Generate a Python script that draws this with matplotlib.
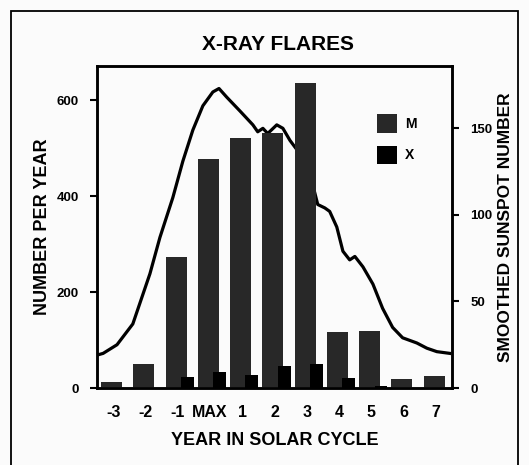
import matplotlib.pyplot as plt
from matplotlib.patches import Rectangle, Patch

# Year in solar cycle (0 = MAX)
years = [-3, -2, -1, 0, 1, 2, 3, 4, 5, 6, 7]
year_labels = ["-3", "-2", "-1", "MAX", "1", "2", "3", "4", "5", "6", "7"]

# flares per year
m_flares = [12, 50, 274, 477, 521, 532, 636, 117, 119, 19, 25]
x_flares = [0, 0, 23, 33, 27, 46, 50, 20, 5, 0, 0]

# smoothed sunspot number
ssn_year = [-3.5, -3.31, -2.88, -2.39, -1.86, -1.55, -1.15, -0.84, -0.53, -0.22,
            0.09, 0.28, 0.52, 0.93, 1.33, 1.48, 1.64, 1.79, 2.07, 2.26, 2.48,
            2.72, 3.19, 3.34, 3.56, 3.71, 3.93, 4.12, 4.33, 4.49, 4.74, 5.05,
            5.35, 5.66, 5.97, 6.41, 6.72, 7.03, 7.43]
ssn = [19, 20, 25, 37, 66, 87, 110, 131, 149, 163,
       171, 173, 168, 160, 152, 148, 150, 147, 152, 150, 143,
       137, 117, 106, 104, 102, 93, 79, 74, 76, 70, 60,
       46, 35, 29, 26, 23, 21, 20]

plt.rcParams['font.family'] = ['Liberation Sans', 'DejaVu Sans']
plt.rcParams['font.weight'] = 'bold'

fig = plt.figure(figsize=(5.29, 4.65), dpi=100)
fig.patch.set_facecolor('#fbfbfb')
ax = fig.add_axes([97/529, 77/465, 355/529, 322/465])
ax2 = ax.twinx()

# sunspot line goes behind the bars
ax.set_zorder(2)
ax2.set_zorder(1)
ax.patch.set_visible(False)
ax2.patch.set_facecolor('#fbfbfb')

ax2.plot(ssn_year, ssn, color='black', lw=2.3, solid_joinstyle='round')
ax2.set_ylim(0, 186)
ax2.set_yticks([0, 50, 100, 150])
ax2.tick_params(axis='y', direction='out', length=5, width=1.5, labelsize=9.5, pad=8)

ax.bar([y - 0.05 for y in years], m_flares, width=0.65, color='#282828', zorder=2)
ax.bar([y + 0.3 for y in years], x_flares, width=0.4, color='black', zorder=3)

ax.set_xlim(-3.5, 7.5)
ax.set_ylim(0, 672)
ax.set_yticks([0, 200, 400, 600])
ax.set_xticks(years)
ax.set_xticklabels(year_labels)
ax.tick_params(axis='x', direction='in', length=4, width=1.5, labelsize=11.5, pad=12)
ax.tick_params(axis='y', direction='out', length=5, width=1.5, labelsize=9.5, pad=8)

for a in (ax, ax2):
    for s in a.spines.values():
        s.set_linewidth(1.8)

ax.set_xlabel("YEAR IN SOLAR CYCLE", fontsize=13, fontweight='bold', labelpad=9)
ax.set_ylabel("NUMBER PER YEAR", fontsize=13, fontweight='bold', labelpad=4)
ax2.set_ylabel("SMOOTHED SUNSPOT NUMBER", fontsize=12.5, fontweight='bold',
               rotation=90, labelpad=4)
fig.text(278/529, 1 - 45/465, "X-RAY FLARES", ha='center', va='center',
         fontsize=15, fontweight='bold')

handles = [Patch(facecolor='#282828', label='M'), Patch(facecolor='black', label='X')]
ax.legend(handles=handles, loc='upper left', bbox_to_anchor=(0.79, 0.85), frameon=False,
          borderaxespad=0, borderpad=0,
          handlelength=1.4, handleheight=1.7, labelspacing=0.9, handletextpad=0.6,
          fontsize=10)

# border round the whole picture
fig.patches.append(Rectangle((11/529, -0.02), 507/529, 1 - 11/465 + 0.02,
                             transform=fig.transFigure, fill=False,
                             edgecolor='black', lw=1.3))

fig.savefig("out.png", dpi=100, facecolor=fig.get_facecolor())
